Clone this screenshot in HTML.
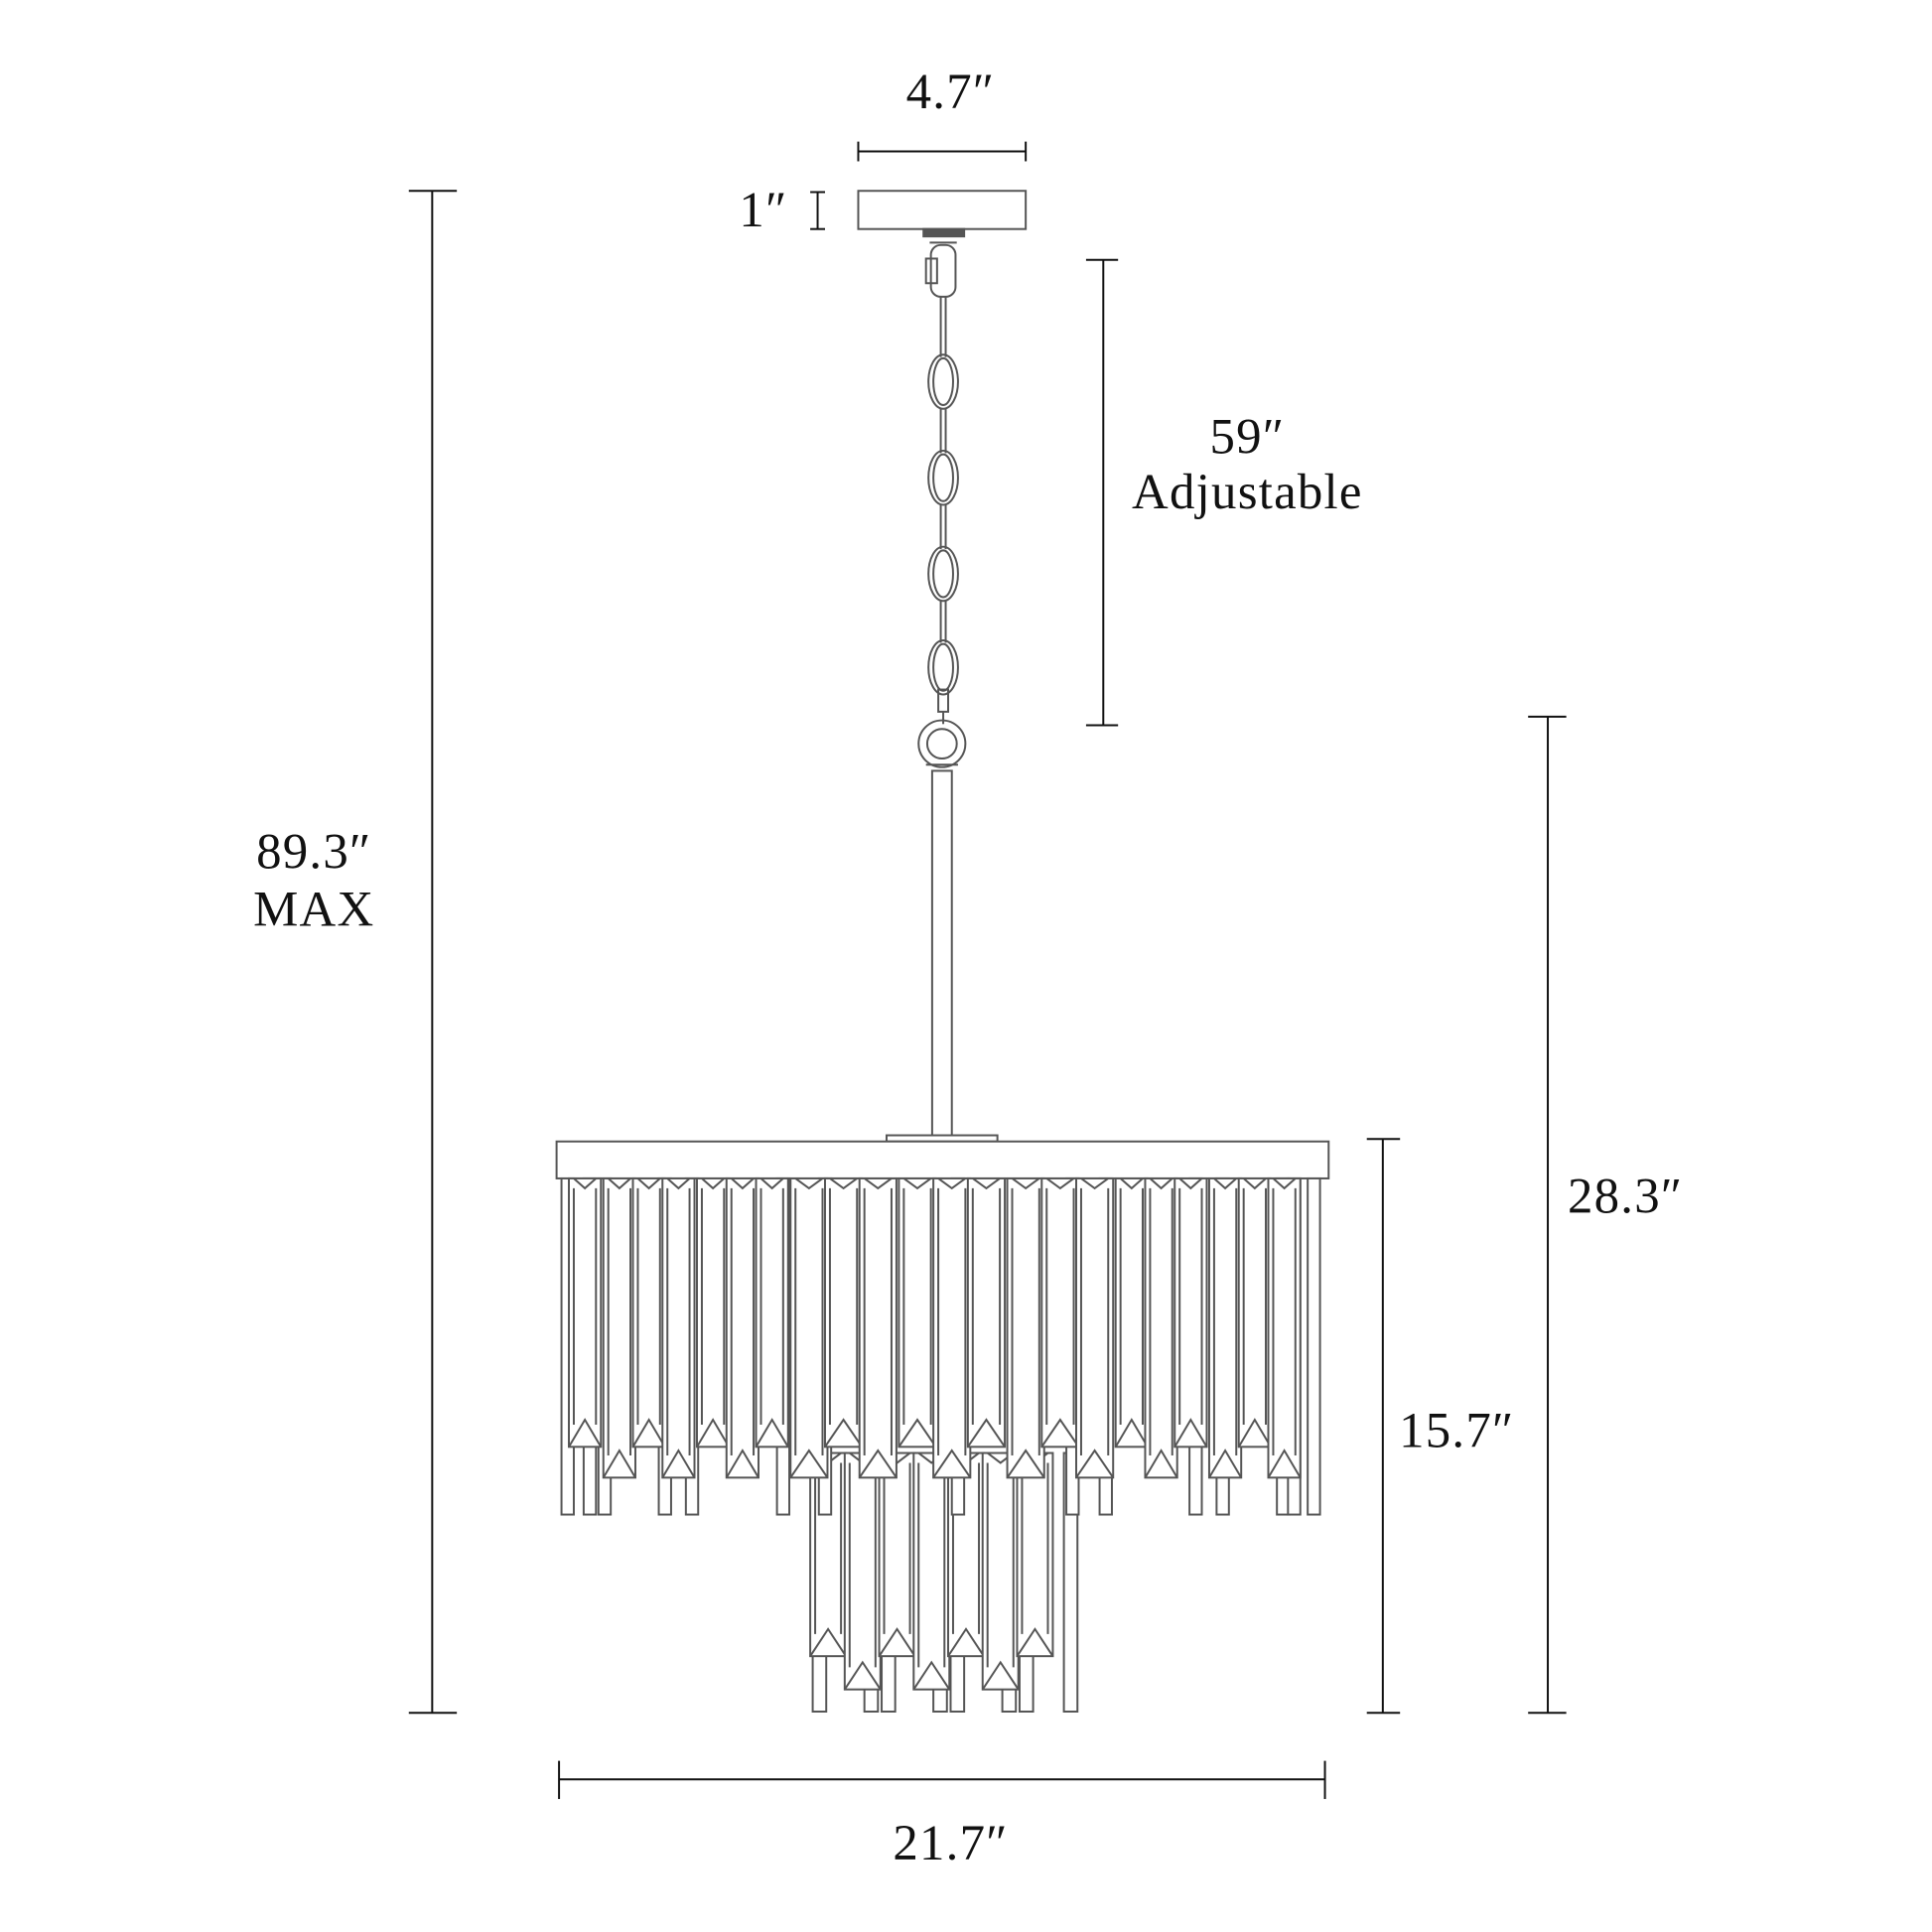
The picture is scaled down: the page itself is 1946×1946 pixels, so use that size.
<!DOCTYPE html>
<html><head><meta charset="utf-8"><style>
html,body{margin:0;padding:0;background:#fff;}
svg{display:block;}
text{font-family:"Liberation Serif",serif;fill:#111;}
</style></head><body>
<svg id="s" width="1946" height="1946" viewBox="0 0 1569 1569" xmlns="http://www.w3.org/2000/svg">
<g stroke="#111" stroke-width="1.6" fill="none">
<line x1="697" y1="123" x2="833" y2="123"/><line x1="697" y1="115" x2="697" y2="131"/><line x1="833" y1="115" x2="833" y2="131"/>
<line x1="664" y1="156" x2="664" y2="186"/><line x1="658" y1="156" x2="670" y2="156"/><line x1="658" y1="186" x2="670" y2="186"/>
<line x1="351" y1="155" x2="351" y2="1391"/><line x1="332" y1="155" x2="371" y2="155"/><line x1="332" y1="1391" x2="371" y2="1391"/>
<line x1="896" y1="211" x2="896" y2="589"/><line x1="882" y1="211" x2="908" y2="211"/><line x1="882" y1="589" x2="908" y2="589"/>
<line x1="1257" y1="582" x2="1257" y2="1391"/><line x1="1241" y1="582" x2="1272" y2="582"/><line x1="1241" y1="1391" x2="1272" y2="1391"/>
<line x1="1123" y1="925" x2="1123" y2="1391"/><line x1="1110" y1="925" x2="1137" y2="925"/><line x1="1110" y1="1391" x2="1137" y2="1391"/>
<line x1="454" y1="1445" x2="1076" y2="1445"/><line x1="454" y1="1430" x2="454" y2="1461"/><line x1="1076" y1="1430" x2="1076" y2="1461"/>
</g>
<g font-size="41" text-anchor="middle" letter-spacing="1">
<text x="772" y="88">4.7″</text>
<text x="620" y="184">1″</text>
<text x="1013" y="368">59″</text>
<text x="1013" y="413">Adjustable</text>
<text x="255" y="705">89.3″</text>
<text x="255" y="752">MAX</text>
<text x="1320" y="985">28.3″</text>
<text x="1183" y="1175">15.7″</text>
<text x="772" y="1510">21.7″</text>
</g>
<g stroke="#555" stroke-width="1.6" fill="#fff" id="lamp">
<rect x="697" y="155" width="136" height="31"/>
<rect x="750" y="186" width="33" height="6" fill="#555"/>
<line x1="755" y1="197" x2="777" y2="197"/>
<rect x="756" y="199" width="20" height="42" rx="8" fill="none"/>
<rect x="752" y="210" width="9" height="20" fill="none"/>
<line x1="764" y1="241" x2="764" y2="290"/><line x1="768" y1="241" x2="768" y2="290"/>
<ellipse cx="766" cy="310" rx="12" ry="22" fill="none"/><ellipse cx="766" cy="310" rx="8" ry="19" fill="none"/>
<line x1="764" y1="332" x2="764" y2="368"/><line x1="768" y1="332" x2="768" y2="368"/>
<ellipse cx="766" cy="388" rx="12" ry="22" fill="none"/><ellipse cx="766" cy="388" rx="8" ry="19" fill="none"/>
<line x1="764" y1="410" x2="764" y2="446"/><line x1="768" y1="410" x2="768" y2="446"/>
<ellipse cx="766" cy="466" rx="12" ry="22" fill="none"/><ellipse cx="766" cy="466" rx="8" ry="19" fill="none"/>
<line x1="764" y1="488" x2="764" y2="522"/><line x1="768" y1="488" x2="768" y2="522"/>
<ellipse cx="766" cy="542" rx="12" ry="22" fill="none"/><ellipse cx="766" cy="542" rx="8" ry="19" fill="none"/>
<rect x="762" y="560" width="8" height="18" fill="none"/>
<line x1="766" y1="578" x2="766" y2="588"/>
<circle cx="765" cy="604" r="19" fill="none"/><circle cx="765" cy="604" r="12" fill="none"/>
<line x1="752" y1="621" x2="778" y2="621"/>
<rect x="757" y="626" width="16" height="298"/>
<rect x="720" y="922" width="90" height="5"/>
<rect x="452" y="927" width="627" height="30"/>
<g id="cr"></g>
</g>
</svg>
<script>
var g=document.getElementById('cr'),h='';
function prism(x,w,y0,y1){var m=x+w/2;h+='<rect x="'+x+'" y="'+y0+'" width="'+w+'" height="'+(y1-y0)+'"/>'+
'<line x1="'+(x+4)+'" y1="'+(y0+8)+'" x2="'+(x+4)+'" y2="'+(y1-18)+'"/><line x1="'+(x+w-4)+'" y1="'+(y0+8)+'" x2="'+(x+w-4)+'" y2="'+(y1-18)+'"/>'+
'<polyline fill="none" points="'+x+','+(y1)+' '+m+','+(y1-22)+' '+(x+w)+','+y1+'"/>'+
'<polyline fill="none" points="'+(x+4)+','+y0+' '+m+','+(y0+8)+' '+(x+w-4)+','+y0+'"/>';}
function rod(x,w,y0,y1){h+='<rect x="'+x+'" y="'+y0+'" width="'+w+'" height="'+(y1-y0)+'"/>';}
var bx=[658,686,714,742,770,798,826,848];
for(var i=0;i<bx.length;i++){rod(bx[i]+(i%2?16:2),11,1180,1390);}
for(var i=0;i<bx.length-1;i++){prism(bx[i],29,1180,i%2?1372:1345);}
var rods=[456,474,486,535,557,631,665,773,866,893,966,988,1037,1046,1062];
for(var i=0;i<rods.length;i++)rod(rods[i],10,957,1230);
var x=462,k=0;
while(x<1050){var w=(x>640&&x<900)?30:26;if(x+w>1074)w=1074-x;prism(x,w,957,k%2?1200:1175);x+=w-2+(k%3==0?4:0);k++;}
g.innerHTML=h;
</script>
</body></html>
